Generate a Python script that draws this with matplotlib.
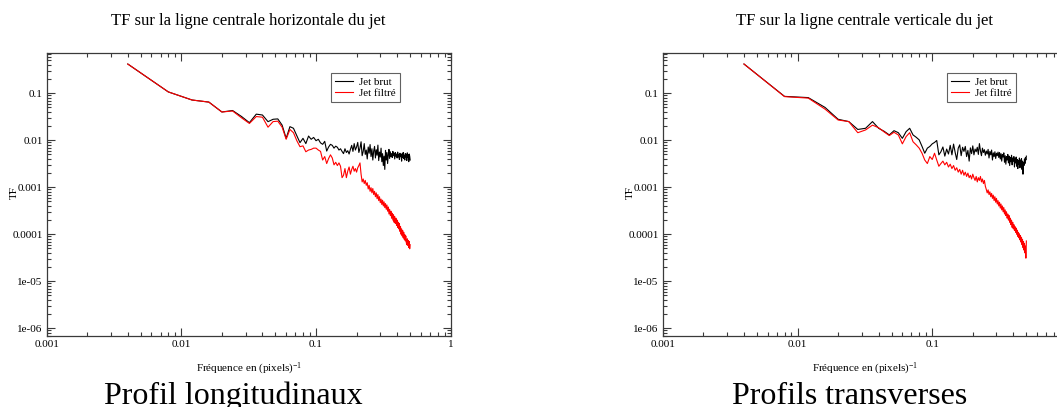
import numpy as np
import matplotlib
matplotlib.use("Agg")
import matplotlib.pyplot as plt
from matplotlib.ticker import LogLocator, FixedLocator, FixedFormatter, NullFormatter

plt.rcParams['font.family'] = ['Liberation Serif', 'DejaVu Serif']
plt.rcParams['mathtext.default'] = 'regular'

# frequency grid (1/pixels): k/250, k = 1..125
freq = np.arange(1, 126) / 250.0

horiz_brut = [
    0.42, 0.107, 0.072, 0.065, 0.040, 0.043, 0.032, 0.0237, 0.036, 0.0345,
    0.0249, 0.028, 0.0285, 0.021, 0.011, 0.0195, 0.018, 0.0125, 0.0089, 0.011,
    0.0085, 0.0123, 0.0105, 0.0115, 0.0098, 0.0105, 0.0088, 0.0082, 0.0095, 0.0059,
    0.0072, 0.0082, 0.0078, 0.0068, 0.0075, 0.0071, 0.0062, 0.0066, 0.0058, 0.0052,
    0.0066, 0.0055, 0.0060, 0.0051, 0.0064, 0.0078, 0.0058, 0.0085, 0.0062, 0.0072,
    0.0090, 0.0055, 0.0068, 0.0093, 0.0047, 0.0058, 0.0085, 0.0050, 0.0062, 0.0040,
    0.0072, 0.0053, 0.0081, 0.0045, 0.0066, 0.0038, 0.0059, 0.0074, 0.0042, 0.0063,
    0.0048, 0.0079, 0.0037, 0.0056, 0.0044, 0.0068, 0.0035, 0.0052, 0.0029, 0.0046,
    0.0024, 0.0061, 0.0038, 0.0055, 0.0032, 0.0049, 0.0064, 0.0041, 0.0057, 0.0045,
    0.0052, 0.0043, 0.0058, 0.0047, 0.0053, 0.0040, 0.0055, 0.0046, 0.0051, 0.0042,
    0.0056, 0.0044, 0.0050, 0.0039, 0.0053, 0.0045, 0.0049, 0.0036, 0.0052, 0.0043,
    0.0055, 0.0041, 0.0048, 0.0038, 0.0052, 0.0044, 0.0050, 0.0037, 0.0054, 0.0043,
    0.0049, 0.0035, 0.0051, 0.0046, 0.0038,
]
horiz_filtre = [
    0.42, 0.107, 0.072, 0.065, 0.040, 0.042, 0.030, 0.0228, 0.032, 0.031,
    0.019, 0.025, 0.0255, 0.019, 0.0105, 0.017, 0.0145, 0.0098, 0.0073, 0.0076,
    0.0057, 0.0062, 0.0064, 0.0068, 0.0068, 0.0062, 0.0058, 0.0038, 0.0045, 0.0032,
    0.0041, 0.0049, 0.0042, 0.0030, 0.0034, 0.0029, 0.0033, 0.0028, 0.0016, 0.0018,
    0.0025, 0.0016, 0.0022, 0.0027, 0.0019, 0.0024, 0.0028, 0.0022, 0.0025, 0.0021,
    0.0026, 0.0029, 0.0033, 0.0019, 0.0013, 0.0015, 0.0012, 0.0014, 0.0011, 0.00125,
    0.00092, 0.0011, 0.00082, 0.00098, 0.00076, 0.00094, 0.0007, 0.00082, 0.00063, 0.00076,
    0.00057, 0.0007, 0.00052, 0.00063, 0.00047, 0.00056, 0.00043, 0.00053, 0.0004, 0.00049,
    0.00037, 0.00045, 0.00034, 0.00042, 0.00031, 0.00038, 0.00027, 0.00034, 0.00025, 0.00031,
    0.00022, 0.00028, 0.0002, 0.00026, 0.00018, 0.00024, 0.00017, 0.00022, 0.000155, 0.0002,
    0.00014, 0.00018, 0.00013, 0.00017, 0.000115, 0.000145, 0.0001, 0.00013, 9.2e-5, 0.00012,
    8.4e-5, 0.00011, 7.8e-5, 9.8e-5, 7.2e-5, 9.2e-5, 6.6e-5, 6.0e-5, 8.0e-5, 5.8e-5,
    7.4e-5, 5.2e-5, 7.0e-5, 4.9e-5, 6.0e-5,
]

vert_brut = [
    0.42, 0.086, 0.081, 0.050, 0.028, 0.025, 0.017, 0.018, 0.025, 0.018,
    0.0155, 0.013, 0.016, 0.0145, 0.011, 0.0153, 0.018, 0.013, 0.0116, 0.0102,
    0.0074, 0.0053, 0.0068, 0.0074, 0.0084, 0.0090, 0.0099, 0.0049, 0.0057, 0.0072,
    0.0046, 0.0065, 0.0051, 0.0078, 0.0049, 0.0083, 0.0055, 0.0039, 0.0068, 0.0080,
    0.0047, 0.0071, 0.0058, 0.0074, 0.0045, 0.0061, 0.0036, 0.0069, 0.0052, 0.0076,
    0.0049, 0.0065, 0.0057, 0.0071, 0.0050, 0.0085, 0.0060, 0.0047, 0.0068, 0.0055,
    0.0063, 0.0048, 0.0059, 0.0051, 0.0064, 0.0042, 0.0058, 0.0049, 0.0062, 0.0038,
    0.0054, 0.0045, 0.0057, 0.0041, 0.0053, 0.0047, 0.0056, 0.0043, 0.0055, 0.0040,
    0.0052, 0.0036, 0.0050, 0.0044, 0.0054, 0.0034, 0.0047, 0.0031, 0.0045, 0.0038,
    0.0050, 0.0033, 0.0046, 0.0029, 0.0043, 0.0035, 0.0048, 0.0030, 0.0042, 0.0036,
    0.0045, 0.0027, 0.0040, 0.0033, 0.0044, 0.0028, 0.0039, 0.0025, 0.0037, 0.0031,
    0.0042, 0.0026, 0.0038, 0.0030, 0.0041, 0.0024, 0.0036, 0.0019, 0.0034, 0.0029,
    0.0040, 0.0032, 0.0043, 0.0038, 0.0046,
]
vert_filtre = [
    0.42, 0.085, 0.079, 0.046, 0.027, 0.025, 0.0145, 0.0166, 0.021, 0.0185,
    0.015, 0.0126, 0.0148, 0.013, 0.0084, 0.012, 0.0145, 0.0093, 0.0080, 0.0068,
    0.0053, 0.0038, 0.0032, 0.0045, 0.0039, 0.0053, 0.0038, 0.0028, 0.0032, 0.0036,
    0.0030, 0.0034, 0.0027, 0.0031, 0.0025, 0.0029, 0.0023, 0.0026, 0.0021, 0.0024,
    0.0019, 0.0023, 0.0018, 0.0021, 0.0017, 0.0020, 0.0016, 0.0018, 0.0015, 0.0019,
    0.0016, 0.0014, 0.0017, 0.0013, 0.0016, 0.0014, 0.0017, 0.0013, 0.0015, 0.0012,
    0.0014, 0.00105, 0.0009, 0.00076, 0.00088, 0.0007, 0.0008, 0.00063, 0.00074, 0.00058,
    0.00068, 0.00052, 0.00063, 0.00048, 0.00058, 0.00044, 0.00052, 0.0004, 0.00048, 0.00036,
    0.00044, 0.00033, 0.0004, 0.0003, 0.00037, 0.00027, 0.00033, 0.00025, 0.0003, 0.00022,
    0.00027, 0.0002, 0.00025, 0.00018, 0.00022, 0.00016, 0.0002, 0.00014, 0.00018, 0.00013,
    0.00016, 0.00012, 0.000145, 0.00011, 0.000135, 0.0001, 0.000122, 9.0e-5, 0.00011, 8.4e-5,
    0.000102, 7.6e-5, 9.4e-5, 6.8e-5, 8.6e-5, 6.0e-5, 7.8e-5, 5.2e-5, 7.0e-5, 4.6e-5,
    6.4e-5, 4.0e-5, 5.6e-5, 3.1e-5, 7.2e-5,
]

titles = ["TF sur la ligne centrale horizontale du jet",
          "TF sur la ligne centrale verticale du jet"]
captions = ["Profil longitudinaux", "Profils transverses"]
series_labels = ["Jet brut", "Jet filtré"]
x_ticks = [0.001, 0.01, 0.1, 1]
x_tick_labels = [["0.001", "0.01", "0.1", "1"], ["0.001", "0.01", "0.1", ""]]
y_ticks = [0.1, 0.01, 0.001, 0.0001, 1e-05, 1e-06]
y_tick_labels = ["0.1", "0.01", "0.001", "0.0001", "1e-05", "1e-06"]

W, H = 1057, 407
fig = plt.figure(figsize=(W / 100, H / 100), dpi=100)

ax_left_px = [46.7, 662.9]
ax_w_px = 404.0
ax_top_px, ax_bot_px = 53.3, 335.5
caption_x_px = [233, 849.5]
ylabel_x_px = [14, 630]

data = [(horiz_brut, horiz_filtre), (vert_brut, vert_filtre)]
spine_col = '#3a3a3a'

for i in range(2):
    ax = fig.add_axes([ax_left_px[i] / W, 1 - ax_bot_px / H,
                       ax_w_px / W, (ax_bot_px - ax_top_px) / H])
    brut, filtre = data[i]
    ax.plot(freq, brut, color='black', lw=0.8, label=series_labels[0])
    ax.plot(freq, filtre, color='red', lw=0.8, label=series_labels[1])
    ax.set_xscale('log')
    ax.set_yscale('log')
    ax.set_xlim(0.001, 1)
    ax.set_ylim(7.0e-7, 0.71)

    ax.xaxis.set_major_locator(FixedLocator(x_ticks))
    ax.xaxis.set_major_formatter(FixedFormatter(x_tick_labels[i]))
    ax.yaxis.set_major_locator(FixedLocator(y_ticks))
    ax.yaxis.set_major_formatter(FixedFormatter(y_tick_labels))
    ax.xaxis.set_minor_locator(LogLocator(base=10, subs=np.arange(2, 10), numticks=20))
    ax.yaxis.set_minor_locator(LogLocator(base=10, subs=np.arange(2, 10), numticks=20))
    ax.xaxis.set_minor_formatter(NullFormatter())
    ax.yaxis.set_minor_formatter(NullFormatter())

    ax.tick_params(which='both', direction='in', top=True, right=True,
                   color=spine_col, labelsize=8, width=0.8, pad=3)
    ax.tick_params(which='major', length=6)
    ax.tick_params(which='minor', length=3)
    for s in ax.spines.values():
        s.set_color(spine_col)
        s.set_linewidth(0.9)

    ax.set_xlabel("Fréquence en (pixels)$^{-1}$", fontsize=8)
    ax.xaxis.set_label_coords(0.5, -(369 - ax_bot_px) / (ax_bot_px - ax_top_px))
    ax.xaxis.label.set_va('center')
    ax.set_ylabel("TF", fontsize=8)
    ax.yaxis.set_label_coords((ylabel_x_px[i] - ax_left_px[i]) / ax_w_px, 0.505)
    ax.yaxis.label.set_va('center')

    leg = ax.legend(loc='upper left', bbox_to_anchor=(0.7035, 0.929), borderaxespad=0,
                    fontsize=8, frameon=True, fancybox=False, handlelength=1.6,
                    handletextpad=0.6, borderpad=0.35, labelspacing=0.1)
    leg.get_frame().set_edgecolor(spine_col)
    leg.get_frame().set_linewidth(0.8)

    fig.text((ax_left_px[i] + ax_w_px / 2) / W, 1 - 21 / H, titles[i],
             ha='center', va='center', fontsize=12)
    fig.text(caption_x_px[i] / W, 1 - 396 / H, captions[i],
             ha='center', va='center', fontsize=23)

fig.savefig("out.png", dpi=100)
